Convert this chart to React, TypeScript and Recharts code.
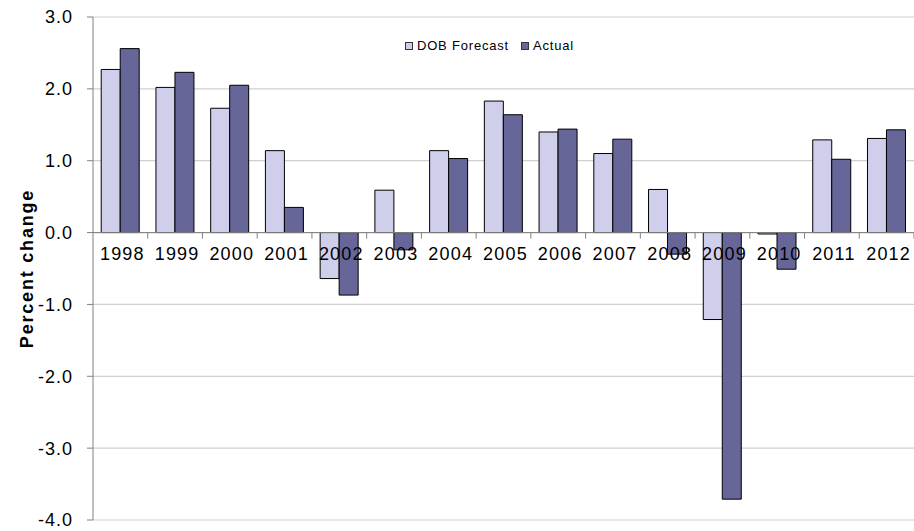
import { BarChart, Bar, XAxis, YAxis, CartesianGrid, Legend, ReferenceLine } from 'recharts';

const years = ['1998', '1999', '2000', '2001', '2002', '2003', '2004', '2005', '2006', '2007', '2008', '2009', '2010', '2011', '2012'];
const forecast = [2.27, 2.02, 1.73, 1.14, -0.64, 0.59, 1.14, 1.83, 1.4, 1.1, 0.6, -1.21, -0.02, 1.29, 1.31];
const actual = [2.56, 2.23, 2.05, 0.35, -0.87, -0.24, 1.03, 1.64, 1.44, 1.3, -0.3, -3.71, -0.51, 1.02, 1.43];
const yTicks = [-4, -3, -2, -1, 0, 1, 2, 3];
const seriesOrder = ['DOB Forecast', 'Actual'];

const data = years.map((year, i) => ({ year, forecast: forecast[i], actual: actual[i] }));

const W = 914;
const H = 531;
const margin = { top: 17, right: 0, left: 0, bottom: 10 };
const yAxisWidth = 93;
const xAxisHeight = 1;
const yMin = -4;
const yMax = 3;
const plotTop = margin.top;
const plotBottom = H - margin.bottom - xAxisHeight;
const zeroY = plotTop + ((plotBottom - plotTop) * yMax) / (yMax - yMin);
const band = (W - yAxisWidth - margin.right) / years.length;
const font = 'Arial, "Liberation Sans", sans-serif';

const YearTick = (props: any) => {
  const { x, payload } = props;
  return (
    <g>
      <line x1={x + band / 2} x2={x + band / 2} y1={zeroY} y2={zeroY + 6} stroke="#808080" />
      <text x={x + 2} y={zeroY + 27} textAnchor="middle" fontSize={18} letterSpacing={1.2} fill="#000" fontFamily={font}>
        {payload.value}
      </text>
    </g>
  );
};

const LegendContent = (props: any) => {
  const items = [...(props.payload || [])].sort(
    (a: any, b: any) => seriesOrder.indexOf(a.value) - seriesOrder.indexOf(b.value)
  );
  return (
    <div style={{ display: 'flex', alignItems: 'center', fontFamily: font, fontSize: 13, letterSpacing: 0.8, color: '#000', whiteSpace: 'nowrap' }}>
      {items.map((p: any) => (
        <span key={p.value} style={{ display: 'flex', alignItems: 'center', marginRight: 12 }}>
          <span style={{ width: 6, height: 6, background: p.color, border: '1px solid #333', marginRight: 4, display: 'inline-block' }} />
          {p.value}
        </span>
      ))}
    </div>
  );
};

export default function App() {
  return (
    <div style={{ position: 'absolute', left: 0, top: 0, width: W, height: H, background: '#fff' }}>
      <BarChart width={W} height={H} data={data} margin={margin} barCategoryGap="15%" barGap={0}>
        <CartesianGrid vertical={false} stroke="#d0d0d0" strokeWidth={1.2} />
        <XAxis
          dataKey="year"
          height={xAxisHeight}
          axisLine={false}
          tickLine={false}
          tick={<YearTick />}
          interval={0}
        />
        <YAxis
          width={yAxisWidth}
          domain={[yMin, yMax]}
          ticks={yTicks}
          allowDataOverflow
          tickFormatter={(v: number) => v.toFixed(1)}
          axisLine={{ stroke: '#808080' }}
          tickLine={{ stroke: '#808080' }}
          tickSize={6}
          tickMargin={14}
          tick={{ fill: '#000', fontSize: 18, letterSpacing: 1, fontFamily: font }}
          label={{
            value: 'Percent change',
            angle: -90,
            position: 'insideLeft',
            offset: 27,
            style: { textAnchor: 'middle', fontWeight: 'bold', fontSize: 18, letterSpacing: 1.8, fill: '#000', fontFamily: font },
          }}
        />
        <ReferenceLine y={0} stroke="#808080" />
        <Legend
          layout="vertical"
          verticalAlign="middle"
          align="center"
          wrapperStyle={{ top: 38, left: 405, right: 'auto', bottom: 'auto', width: 'auto' }}
          content={<LegendContent />}
        />
        <Bar dataKey="forecast" name="DOB Forecast" fill="#cfcfec" stroke="#000" strokeWidth={1} isAnimationActive={false} />
        <Bar dataKey="actual" name="Actual" fill="#666699" stroke="#000" strokeWidth={1} isAnimationActive={false} />
      </BarChart>
    </div>
  );
}
